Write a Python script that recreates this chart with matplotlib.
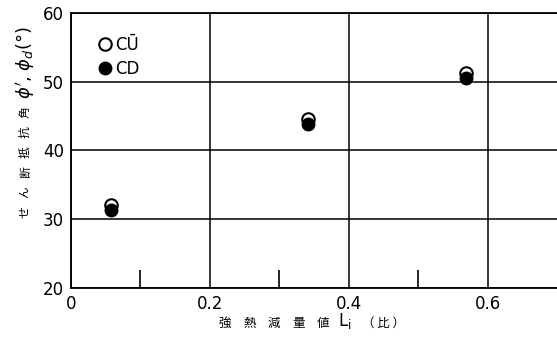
import matplotlib
matplotlib.use("Agg")
import matplotlib.pyplot as plt

# 強熱減量値 Li (比) とせん断抵抗角
li = [0.058, 0.341, 0.569]
phi_cu = [32.1, 44.6, 51.3]
phi_cd = [31.3, 43.8, 50.6]

xticks = [0, 0.2, 0.4, 0.6]
xticklabels = ["0", "0.2", "0.4", "0.6"]
yticks = [20, 30, 40, 50, 60]

ylabel_chars = ["せ", "ん", "断", "抵", "抗", "角"]
xlabel_chars = ["強", "熱", "減", "量", "値"]

plt.rcParams['font.family'] = ['DejaVu Sans', 'Noto Sans CJK JP']

fig = plt.figure(figsize=(5.57, 3.38), dpi=100)
ax = fig.add_axes([0.1275, 0.148, 0.8725, 0.8135])

ax.plot(li, phi_cu, 'o', mfc='white', mec='black', mew=1.5, ms=9, label='CŪ', zorder=4)
ax.plot(li, phi_cd, 'o', mfc='black', mec='black', ms=9, label='CD', zorder=5)

ax.set_xlim(0, 0.7)
ax.set_ylim(20, 60)
ax.set_xticks(xticks)
ax.set_xticklabels(xticklabels)
ax.set_yticks(yticks)
ax.set_xticks([0.1, 0.3, 0.5], minor=True)
ax.tick_params(axis='both', which='major', length=0, labelsize=12, pad=5)
ax.tick_params(axis='x', which='minor', direction='in', length=13, width=1.2)
ax.grid(True, which='major', color='black', lw=1.1)
for s in ['left', 'bottom', 'top']:
    ax.spines[s].set_linewidth(1.3)
ax.spines['right'].set_visible(False)

ax.legend(loc='upper left', bbox_to_anchor=(0.035, 0.96), frameon=False,
          fontsize=12, handlelength=0.6, handletextpad=0.3, labelspacing=0.35,
          borderpad=0.2)

jp = ['Noto Sans CJK JP', 'DejaVu Sans']
# 縦軸ラベル（一文字ずつ配置）
for i, ch in enumerate(ylabel_chars):
    y = (212 - 20 * i) / 338
    fig.text(0.045, 1 - y, ch, rotation=90, fontsize=8.5, family=jp,
             ha='center', va='center')
fig.text(0.045, 0.815, r"$\phi'$, $\phi_d$(°)", rotation=90, fontsize=13,
         ha='center', va='center')

# 横軸ラベル
for i, ch in enumerate(xlabel_chars):
    fig.text((225 + 24.5 * i) / 557, 0.044, ch, fontsize=9, family=jp,
             ha='center', va='center')
fig.text(345 / 557, 0.05, r"$\mathregular{L_i}$", fontsize=12,
         ha='center', va='center')
fig.text(383 / 557, 0.044, "（ 比 ）", fontsize=9, family=jp,
         ha='center', va='center')

fig.savefig("out.png", dpi=100)
